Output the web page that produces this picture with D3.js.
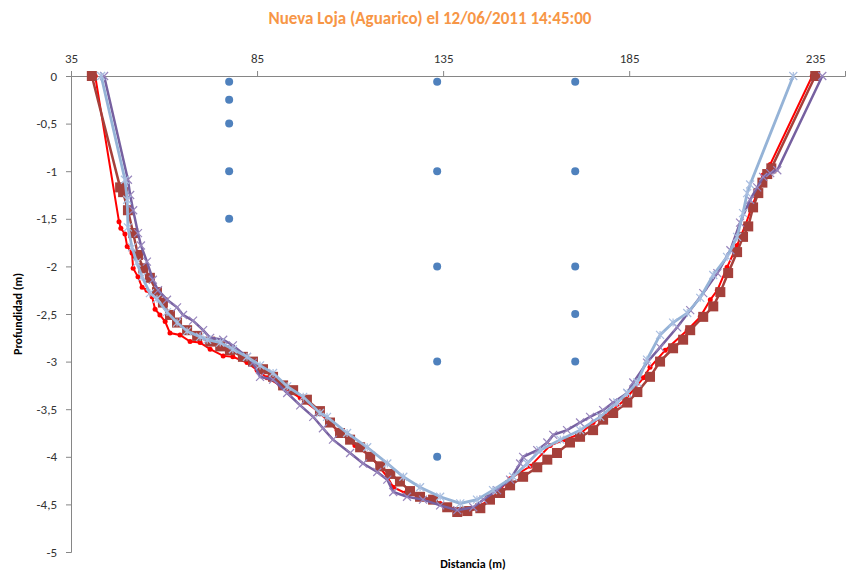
<!DOCTYPE html>
<html>
<head>
<meta charset="utf-8">
<script src="https://cdn.jsdelivr.net/npm/d3@7"></script>
<style>
  body { margin: 0; background: #fff; }
  svg text { font-family: Carlito, Lato, "Open Sans", sans-serif; }
</style>
</head>
<body>
<svg width="859" height="572"></svg>
<script>
// distancia (m) / profundidad (m)
var rojoX = [41.5,47.9,48.4,49.5,50.1,51.4,51.7,53.0,54.1,55.4,56.8,57.6,58.9,60.3,61.6,64.3,67.0,69.7,72.4,75.9,78.5,82.3,85.0,87.7,91.2,96.6,101.9,106.5,111.3,115.4,120.0,121.6,124.8,128.8,134.2,138.8,142.3,147.6,153.0,158.4,163.8,167.8,171.8,175.3,179.9,183.9,188.8,190.6,194.7,200.6,204.1,206.8,208.7,211.3,214.0,216.2,218.1,219.7,221.0,222.9,234.2];
var rojoY = [0,-1.53,-1.60,-1.66,-1.79,-1.86,-2.02,-2.11,-2.22,-2.25,-2.32,-2.45,-2.51,-2.58,-2.70,-2.72,-2.79,-2.80,-2.87,-2.94,-2.95,-3.01,-3.09,-3.17,-3.25,-3.38,-3.54,-3.72,-3.88,-3.99,-4.21,-4.32,-4.38,-4.42,-4.49,-4.56,-4.55,-4.46,-4.23,-4.10,-3.88,-3.82,-3.76,-3.64,-3.53,-3.40,-3.17,-3.06,-2.88,-2.67,-2.53,-2.35,-2.25,-2.01,-1.78,-1.57,-1.36,-1.20,-1.04,-0.93,0];

var granateX = [40.6,48.2,49.0,50.3,51.7,53.0,54.4,56.2,58.1,59.7,61.6,63.5,66.2,68.9,72.4,75.1,77.7,81.2,83.9,86.6,89.3,92.0,94.7,98.4,101.9,104.6,107.3,110.0,112.7,115.4,118.1,120.8,123.4,126.1,128.8,132.3,136.1,138.8,141.5,145.0,147.6,150.3,153.0,156.5,160.3,163.0,165.6,169.1,171.8,175.3,178.0,180.7,184.5,187.2,190.6,193.3,196.8,199.5,201.4,204.9,207.6,209.5,211.6,214.0,215.6,217.0,218.3,219.7,220.8,222.1,223.2,235.0];
var granateY = [0,-1.17,-1.22,-1.41,-1.65,-1.88,-2.02,-2.12,-2.27,-2.38,-2.51,-2.59,-2.67,-2.73,-2.79,-2.84,-2.88,-2.95,-3.00,-3.08,-3.16,-3.25,-3.30,-3.40,-3.52,-3.64,-3.75,-3.82,-3.90,-4.00,-4.10,-4.18,-4.26,-4.36,-4.42,-4.45,-4.53,-4.58,-4.57,-4.54,-4.45,-4.38,-4.30,-4.21,-4.11,-4.03,-3.96,-3.85,-3.79,-3.72,-3.61,-3.54,-3.43,-3.32,-3.16,-3.00,-2.86,-2.77,-2.67,-2.53,-2.42,-2.27,-2.07,-1.85,-1.69,-1.58,-1.38,-1.23,-1.12,-1.03,-0.97,0];

var moradoX = [43.9,50.3,50.9,51.7,53.0,53.8,55.4,57.0,58.4,60.8,63.5,65.1,67.8,70.5,72.4,75.9,78.5,82.3,83.9,85.8,89.3,93.1,96.6,100.1,102.7,105.4,110.0,113.5,117.3,120.0,121.6,125.3,129.6,134.2,138.8,143.1,145.8,149.5,153.0,155.7,156.5,160.3,163.0,164.6,168.3,171.8,174.5,178.0,180.7,184.5,186.1,189.8,193.3,197.9,201.4,204.9,208.7,212.2,214.8,217.5,219.4,221.0,222.9,224.8,236.9];
var moradoY = [0,-1.09,-1.25,-1.41,-1.65,-1.78,-1.95,-2.14,-2.25,-2.35,-2.43,-2.51,-2.57,-2.67,-2.75,-2.77,-2.83,-2.95,-3.01,-3.16,-3.19,-3.33,-3.46,-3.58,-3.70,-3.82,-3.96,-4.07,-4.16,-4.24,-4.37,-4.42,-4.45,-4.51,-4.56,-4.53,-4.45,-4.35,-4.24,-4.07,-4.00,-3.93,-3.85,-3.77,-3.72,-3.64,-3.58,-3.51,-3.43,-3.33,-3.22,-3.01,-2.85,-2.64,-2.46,-2.28,-2.07,-1.83,-1.54,-1.30,-1.17,-1.06,-1.02,-0.99,0];

var celesteX = [43.1,49.5,50.1,50.3,51.4,52.7,54.1,56.2,58.1,60.8,63.5,66.2,69.7,71.6,75.1,78.5,82.3,85.8,89.3,93.1,97.4,101.9,103.8,109.2,114.6,120.0,124.3,128.8,134.2,139.6,144.1,148.4,153.8,157.6,161.1,166.5,171.8,177.2,181.8,184.5,187.2,189.8,193.3,196.8,200.6,204.1,207.6,211.3,214.0,215.6,216.7,217.5,229.1];
var celesteY = [0,-1.09,-1.30,-1.59,-1.80,-1.96,-2.11,-2.28,-2.34,-2.48,-2.59,-2.68,-2.74,-2.77,-2.80,-2.87,-2.95,-3.04,-3.12,-3.26,-3.37,-3.54,-3.58,-3.75,-3.90,-4.07,-4.21,-4.32,-4.42,-4.49,-4.45,-4.35,-4.21,-4.07,-3.93,-3.82,-3.72,-3.58,-3.43,-3.33,-3.22,-2.98,-2.72,-2.59,-2.49,-2.33,-2.09,-1.90,-1.69,-1.44,-1.23,-1.14,0];

// puntos de medición (verticales)
var puntosX = [77.5,77.5,77.5,77.5,77.5,133.4,133.4,133.4,133.4,133.4,170.5,170.5,170.5,170.5,170.5];
var puntosY = [-0.06,-0.25,-0.5,-1,-1.5,-0.06,-1,-2,-3,-4,-0.06,-1,-2,-2.5,-3];

var xTicks = [35,85,135,185,235];
var yTicks = [0,-0.5,-1,-1.5,-2,-2.5,-3,-3.5,-4,-4.5,-5];

var svg = d3.select("svg");
var mLeft = 71, mTop = 76, mRight = 845, mBottom = 552;

var x = d3.scaleLinear().domain([35,243]).range([mLeft,mRight]);
var y = d3.scaleLinear().domain([0,-5]).range([mTop,mBottom]);

function zip(xs, ys) { return xs.map(function(v,i){ return [v, ys[i]]; }); }

var fmt = function(d){ return String(d).replace(".", ","); };

// axes
var ax = svg.append("g").attr("transform","translate(0," + mTop + ")")
  .call(d3.axisTop(x).tickValues(xTicks).tickSize(5).tickPadding(8));
var ay = svg.append("g").attr("transform","translate(" + mLeft + ",0)")
  .call(d3.axisLeft(y).tickValues(yTicks).tickSize(5).tickPadding(9).tickFormat(fmt));
[ax, ay].forEach(function(a){
  a.select(".domain").attr("stroke","#868686");
  a.selectAll(".tick line").attr("stroke","#868686");
  a.selectAll(".tick text").attr("fill","#333").style("font-size","13px");
});

var line = d3.line().x(function(d){ return x(d[0]); }).y(function(d){ return y(d[1]); });

// rojo con puntos
var r1 = zip(rojoX, rojoY);
svg.append("path").datum(r1).attr("d", line).attr("fill","none").attr("stroke","#FF0000").attr("stroke-width",2);
svg.append("g").selectAll("circle").data(r1).enter().append("circle")
  .attr("cx", function(d){ return x(d[0]); })
  .attr("cy", function(d){ return y(d[1]); })
  .attr("r",2.5).attr("fill","#FF0000");

// granate con cuadrados
var g1 = zip(granateX, granateY);
svg.append("path").datum(g1).attr("d", line).attr("fill","none").attr("stroke","#A5403B").attr("stroke-width",2.5);
svg.append("g").selectAll("rect").data(g1).enter().append("rect")
  .attr("x", function(d){ return x(d[0]) - 5; })
  .attr("y", function(d){ return y(d[1]) - 5; })
  .attr("width",10).attr("height",10).attr("fill","#A5403B");

// morado con x
var m1 = zip(moradoX, moradoY);
svg.append("path").datum(m1).attr("d", line).attr("fill","none").attr("stroke","#7660A0").attr("stroke-width",2.5);
svg.append("g").selectAll("path").data(m1).enter().append("path")
  .attr("d", function(d){
    var cx = x(d[0]), cy = y(d[1]), s = 4;
    return "M"+(cx-s)+","+(cy-s)+"L"+(cx+s)+","+(cy+s)+"M"+(cx-s)+","+(cy+s)+"L"+(cx+s)+","+(cy-s);
  })
  .attr("stroke","#9886BD").attr("stroke-width",1.2);

// celeste con asteriscos
var c1 = zip(celesteX, celesteY);
svg.append("path").datum(c1).attr("d", line).attr("fill","none").attr("stroke","#95B3D7").attr("stroke-width",2.8);
svg.append("g").selectAll("path").data(c1).enter().append("path")
  .attr("d", function(d){
    var cx = x(d[0]), cy = y(d[1]), s = 4;
    return "M"+(cx-s)+","+(cy-s)+"L"+(cx+s)+","+(cy+s)+"M"+(cx-s)+","+(cy+s)+"L"+(cx+s)+","+(cy-s)+"M"+cx+","+(cy-s)+"L"+cx+","+(cy+s);
  })
  .attr("stroke","#A9BEE0").attr("stroke-width",1.2);

// puntos azules
svg.append("g").selectAll("circle").data(zip(puntosX, puntosY)).enter().append("circle")
  .attr("cx", function(d){ return x(d[0]); })
  .attr("cy", function(d){ return y(d[1]); })
  .attr("r",4).attr("fill","#4F81BD");

// titles
svg.append("text").attr("x",430).attr("y",24).attr("text-anchor","middle")
  .style("font-size","17px").style("font-weight","bold").attr("fill","#F79646")
  .text("Nueva Loja (Aguarico) el 12/06/2011 14:45:00");
svg.append("text").attr("transform","translate(22,314) rotate(-90)").attr("text-anchor","middle")
  .style("font-size","12px").style("font-weight","bold").attr("fill","#000")
  .text("Profundidad (m)");
svg.append("text").attr("x",473).attr("y",568).attr("text-anchor","middle")
  .style("font-size","12px").style("font-weight","bold").attr("fill","#000")
  .text("Distancia (m)");
</script>
</body>
</html>
